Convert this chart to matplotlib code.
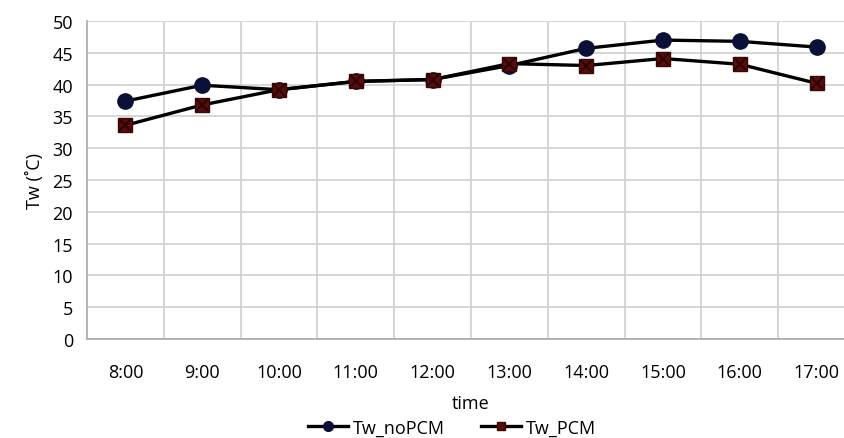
import matplotlib
matplotlib.use("Agg")
import matplotlib.pyplot as plt
from matplotlib.lines import Line2D

plt.rcParams['font.family'] = ['Open Sans', 'DejaVu Sans']

times = ["8:00", "9:00", "10:00", "11:00", "12:00", "13:00", "14:00", "15:00", "16:00", "17:00"]
tw_nopcm = [37.4, 39.9, 39.2, 40.5, 40.8, 43.0, 45.7, 47.0, 46.8, 45.9]
tw_pcm = [33.6, 36.8, 39.2, 40.5, 40.8, 43.3, 43.0, 44.1, 43.2, 40.2]
yticks = [0, 5, 10, 15, 20, 25, 30, 35, 40, 45, 50]

fig = plt.figure(figsize=(8.45, 4.39), dpi=100)
ax = fig.add_axes([87/845, 1 - 340/439, 768/845, 318/439])

x = list(range(len(times)))
ax.plot(x, tw_nopcm, color='black', lw=2.4, marker='o', ms=11,
        mfc='#0b1038', mec='#0b1038', zorder=3)
ax.plot(x, tw_pcm, color='black', lw=2.4, marker='s', ms=10.5,
        mfc='#5c0b0b', mec='#3a0606', zorder=3)
ax.plot(x, tw_pcm, ls='none', marker='x', ms=8, mew=1.6, color='#2a0505', zorder=4)

ax.set_xlim(-0.5, len(times) - 0.5)
ax.set_ylim(0, 50)
ax.set_yticks(yticks)
ax.set_xticks([i + 0.5 for i in range(len(times) - 1)], minor=False)
ax.set_xticklabels([])
ax.set_xticks(x, minor=True)
ax.set_xticklabels(times, minor=True)
ax.tick_params(axis='x', which='both', length=0, pad=17, labelsize=13)
ax.tick_params(axis='y', length=0, pad=10, labelsize=13)
ax.grid(True, which='major', color='#d0d0d0', lw=1.2)
ax.set_axisbelow(True)
for s in ['top', 'right']:
    ax.spines[s].set_visible(False)
for s in ['left', 'bottom']:
    ax.spines[s].set_color('#a8a8a8')
    ax.spines[s].set_linewidth(1.2)

ax.set_ylabel('Tw (˚C)', fontsize=13, labelpad=6)
ax.set_xlabel('time', fontsize=13, labelpad=10)

handles = [
    Line2D([], [], color='black', lw=2.4, marker='o', ms=7, mfc='#0b1038', mec='#0b1038'),
    Line2D([], [], color='black', lw=2.4, marker='s', ms=6, mfc='#5c0b0b', mec='#3a0606'),
]
fig.legend(handles, ['Tw_noPCM', 'Tw_PCM'], loc='center', bbox_to_anchor=(0.535, 0.024),
           ncol=2, frameon=False, fontsize=13, handlelength=2.2, columnspacing=2.0,
           handletextpad=0.3)

fig.savefig('out.png', dpi=100)
